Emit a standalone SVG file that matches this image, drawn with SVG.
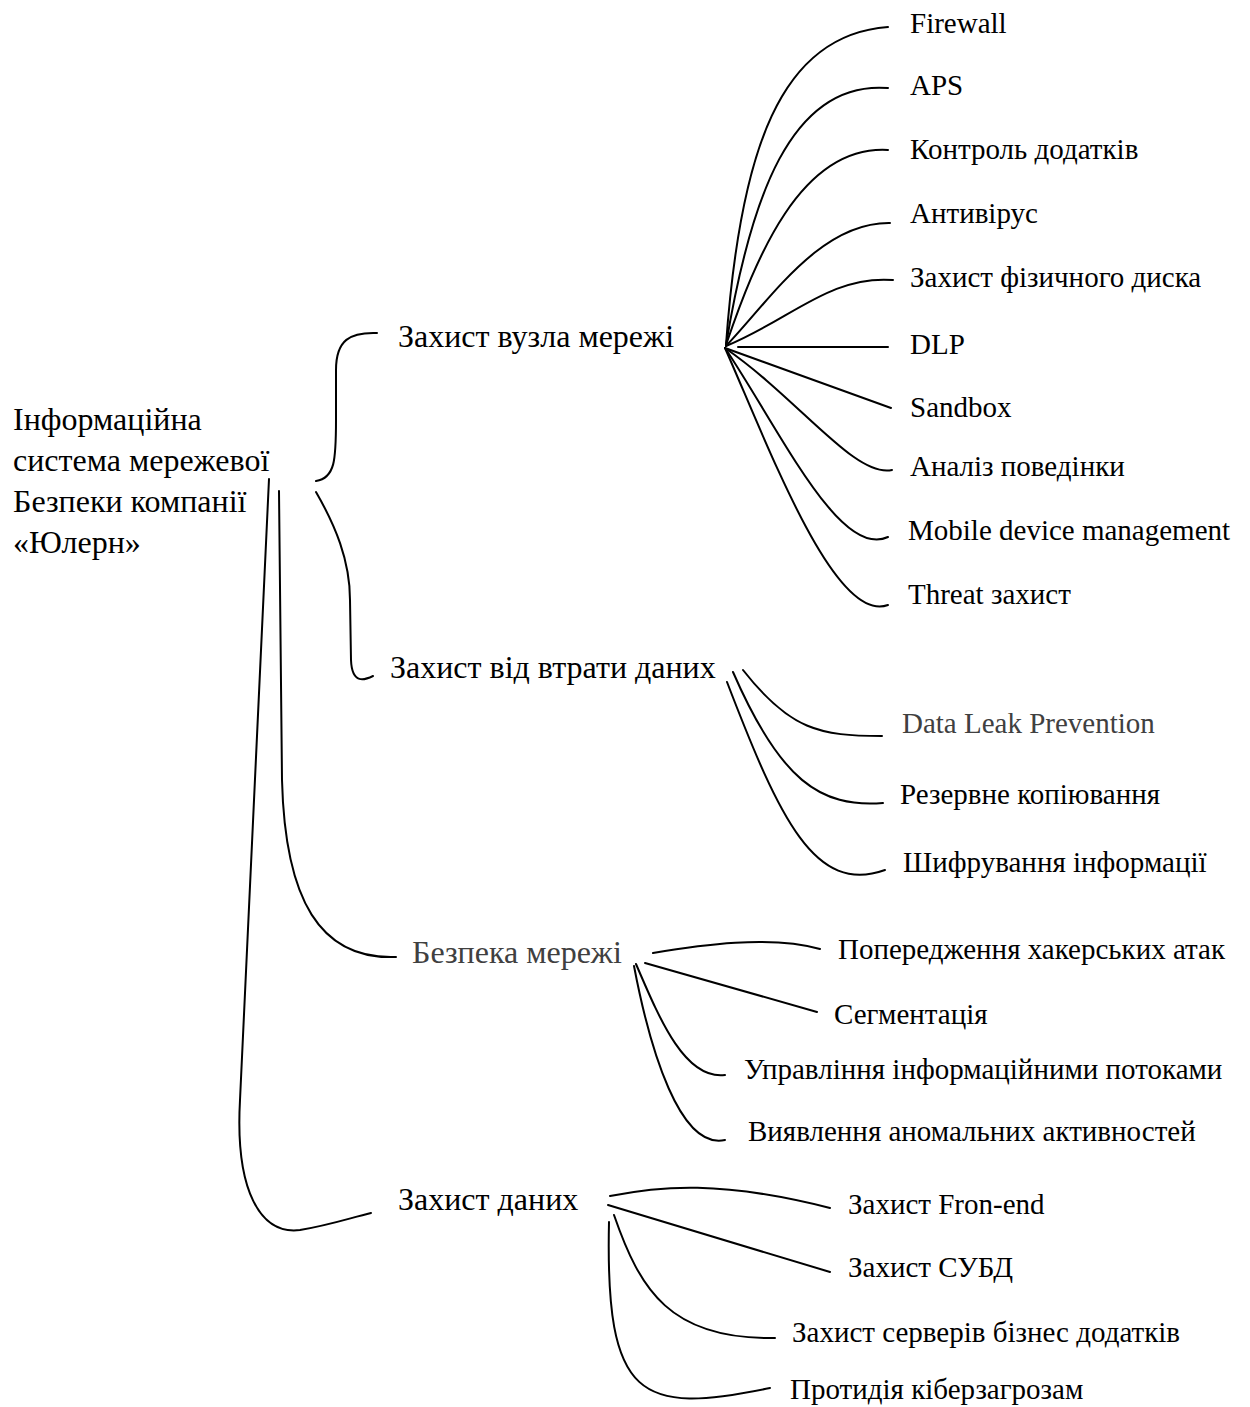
<svg xmlns="http://www.w3.org/2000/svg" width="1250" height="1407" viewBox="0 0 1250 1407">
<style>
text{font-family:"Liberation Serif","Times New Roman",serif;font-size:29px;fill:#000}
.b{font-size:32px}
.g{fill:#404040}
.c path{fill:none;stroke:#000;stroke-width:2;stroke-linecap:round}
</style>
<rect width="1250" height="1407" fill="#fff"/>
<g id="connectors" class="c">
<path d="M316 481 C335 478 336 460 336 420 L336 370 C336 340 350 332 377 333"/>
<path d="M316 492 C335 525 350 560 350 600 L351 660 C352 685 365 680 373 676"/>
<path d="M279 491 L282 780 C285 900 320 960 396 957"/>
<path d="M269 479 L240 1100 C235 1190 260 1235 300 1230 C330 1225 350 1218 371 1213"/>
<path d="M726 345 C740 150 780 35 888 27"/>
<path d="M726 345 C750 200 790 80 888 88"/>
<path d="M726 345 C755 260 800 145 888 150"/>
<path d="M726 346 C770 300 820 222 890 223"/>
<path d="M726 346 C790 320 830 275 893 280"/>
<path d="M738 347 L888 347"/>
<path d="M725 348 L891 408"/>
<path d="M725 348 C800 400 855 478 892 470"/>
<path d="M725 348 C780 430 840 560 888 537"/>
<path d="M725 348 C770 450 835 625 888 605"/>
<path d="M743 670 C790 730 820 736 882 736"/>
<path d="M733 672 C780 780 820 808 883 803"/>
<path d="M727 682 C780 820 815 895 885 870"/>
<path d="M653 953 C700 945 770 935 820 949"/>
<path d="M645 963 L817 1012"/>
<path d="M636 964 C660 1020 685 1080 725 1075"/>
<path d="M634 966 C650 1050 680 1150 725 1140"/>
<path d="M610 1196 C660 1186 720 1180 830 1208"/>
<path d="M608 1205 L830 1272"/>
<path d="M614 1215 C640 1290 670 1340 775 1338"/>
<path d="M609 1222 C605 1400 640 1415 770 1388"/>
</g>
<g id="root" class="b"><text class="b" x="13" y="430">Інформаційна</text><text class="b" x="13" y="471">система мережевої</text><text class="b" x="13" y="512">Безпеки компанії</text><text class="b" x="13" y="553">«Юлерн»</text></g>
<g id="n1"><text class="b" x="398" y="347">Захист вузла мережі</text></g>
<g id="n2"><text class="b" x="390" y="678">Захист від втрати даних</text></g>
<g id="n3"><text class="b g" x="412" y="963">Безпека мережі</text></g>
<g id="n4"><text class="b" x="398" y="1210">Захист даних</text></g>
<g id="l1"><text x="910" y="33">Firewall</text></g>
<g id="l2"><text x="910" y="95">APS</text></g>
<g id="l3"><text x="910" y="159">Контроль додатків</text></g>
<g id="l4"><text x="910" y="223">Антивірус</text></g>
<g id="l5"><text x="910" y="287">Захист фізичного диска</text></g>
<g id="l6"><text x="910" y="354">DLP</text></g>
<g id="l7"><text x="910" y="417">Sandbox</text></g>
<g id="l8"><text x="910" y="476">Аналіз поведінки</text></g>
<g id="l9"><text x="908" y="540">Mobile device management</text></g>
<g id="l10"><text x="908" y="604">Threat захист</text></g>
<g id="l11"><text class="g" x="902" y="733">Data Leak Prevention</text></g>
<g id="l12"><text x="900" y="804">Резервне копіювання</text></g>
<g id="l13"><text x="903" y="872">Шифрування інформації</text></g>
<g id="l14"><text x="838" y="959">Попередження хакерських атак</text></g>
<g id="l15"><text x="834" y="1024">Сегментація</text></g>
<g id="l16"><text x="744" y="1079">Управління інформаційними потоками</text></g>
<g id="l17"><text x="748" y="1141">Виявлення аномальних активностей</text></g>
<g id="l18"><text x="848" y="1214">Захист Fron-end</text></g>
<g id="l19"><text x="848" y="1277">Захист СУБД</text></g>
<g id="l20"><text x="792" y="1342">Захист серверів бізнес додатків</text></g>
<g id="l21"><text x="790" y="1399">Протидія кіберзагрозам</text></g>
</svg>
